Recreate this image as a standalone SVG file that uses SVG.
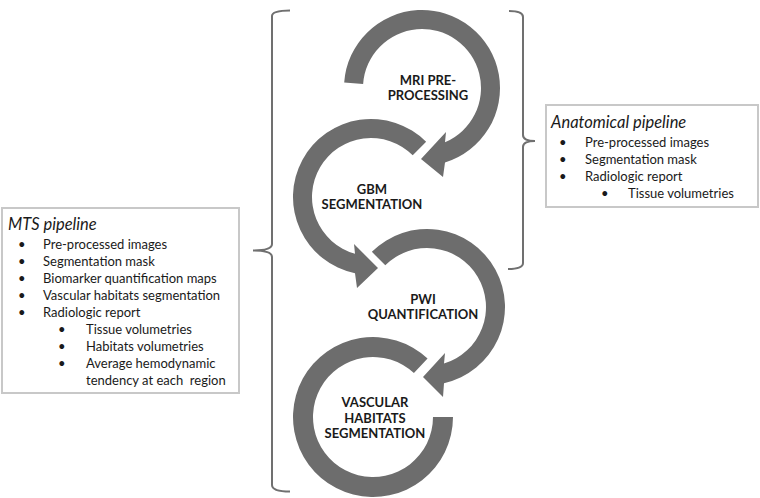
<svg xmlns="http://www.w3.org/2000/svg" width="760" height="498" viewBox="0 0 760 498">
<style>
.arc{fill:#6d6d6d}
.brace{fill:none;stroke:#707070;stroke-width:2}
.box{fill:#fff;stroke:#c8c8c8;stroke-width:2}
.lbl{font-family:Lato,"Liberation Sans",sans-serif;font-weight:bold;font-size:13px;fill:#1a1a1a;text-anchor:middle}
.t{font-family:Lato,"Liberation Sans",sans-serif;font-size:13px;fill:#1a1a1a;white-space:pre}
.ti{font-family:Lato,"Liberation Sans",sans-serif;font-size:16.5px;font-style:italic;fill:#1a1a1a}
</style>
<rect width="760" height="498" fill="#fff"/>
<g id="connectors">
<path class="brace" d="M290,10.5 Q272,10.5 272,16 L272,244 Q272,250.5 253,250.5 Q272,250.5 272,257 L272,485 Q272,491.5 290,491.5"/>
<path class="brace" d="M509,11 Q523,11 523,17 L523,135 Q523,141 535,141 Q523,141 523,147 L523,263 Q523,269 508,269"/>
</g>
<g id="mri">
<path class="arc" d="M344.19,82.56 A78,78 0 1 1 445,162.53 L443,177 L421,159 L446,132 L445,142.33 A59,59 0 1 0 363.14,83.88 Z"/>
<text class="lbl" x="428" y="85">MRI PRE-</text>
<text class="lbl" x="428" y="99.5">PROCESSING</text>
</g>
<g id="gbm">
<path class="arc" d="M426.15,141.85 A78,78 0 1 0 355,273.34 L357,288 L378,268 L354,244 L355,253.79 A59,59 0 1 1 412.72,155.28 Z"/>
<text class="lbl" x="372" y="194">GBM</text>
<text class="lbl" x="372" y="209">SEGMENTATION</text>
</g>
<g id="pwi">
<path class="arc" d="M371.85,251.85 A78,78 0 1 1 444,383.13 L443,397 L423,377 L445,353 L444,363.5 A59,59 0 1 0 385.28,265.28 Z"/>
<text class="lbl" x="423" y="304">PWI</text>
<text class="lbl" x="423" y="319">QUANTIFICATION</text>
</g>
<g id="vascular">
<path class="arc" d="M427.56,358.49 A80,80 0 1 0 453,417 L433,417 A60,60 0 1 1 413.92,373.12 Z"/>
<text class="lbl" x="375" y="407">VASCULAR</text>
<text class="lbl" x="375" y="422.5">HABITATS</text>
<text class="lbl" x="375" y="438">SEGMENTATION</text>
</g>
<g id="mts">
<rect class="box" x="2" y="208" width="237" height="185"/>
<text class="ti" x="8" y="230">MTS pipeline</text>
<text class="t" x="18" y="249">•</text><text class="t" x="43" y="249">Pre-processed images</text>
<text class="t" x="18" y="266">•</text><text class="t" x="43" y="266">Segmentation mask</text>
<text class="t" x="18" y="283">•</text><text class="t" x="43" y="283">Biomarker quantification maps</text>
<text class="t" x="18" y="300">•</text><text class="t" x="43" y="300">Vascular habitats segmentation</text>
<text class="t" x="18" y="317">•</text><text class="t" x="43" y="317">Radiologic report</text>
<text class="t" x="58" y="334">•</text><text class="t" x="86" y="334">Tissue volumetries</text>
<text class="t" x="58" y="351">•</text><text class="t" x="86" y="351">Habitats volumetries</text>
<text class="t" x="58" y="368">•</text><text class="t" x="86" y="368">Average hemodynamic</text>
<text class="t" x="86" y="385" xml:space="preserve">tendency at each  region</text>
</g>
<g id="anatomical">
<rect class="box" x="546" y="105" width="212" height="102"/>
<text class="ti" x="551" y="128">Anatomical pipeline</text>
<text class="t" x="559" y="147">•</text><text class="t" x="585" y="147">Pre-processed images</text>
<text class="t" x="559" y="164">•</text><text class="t" x="585" y="164">Segmentation mask</text>
<text class="t" x="559" y="181">•</text><text class="t" x="585" y="181">Radiologic report</text>
<text class="t" x="601" y="198">•</text><text class="t" x="628" y="198">Tissue volumetries</text>
</g>
</svg>
